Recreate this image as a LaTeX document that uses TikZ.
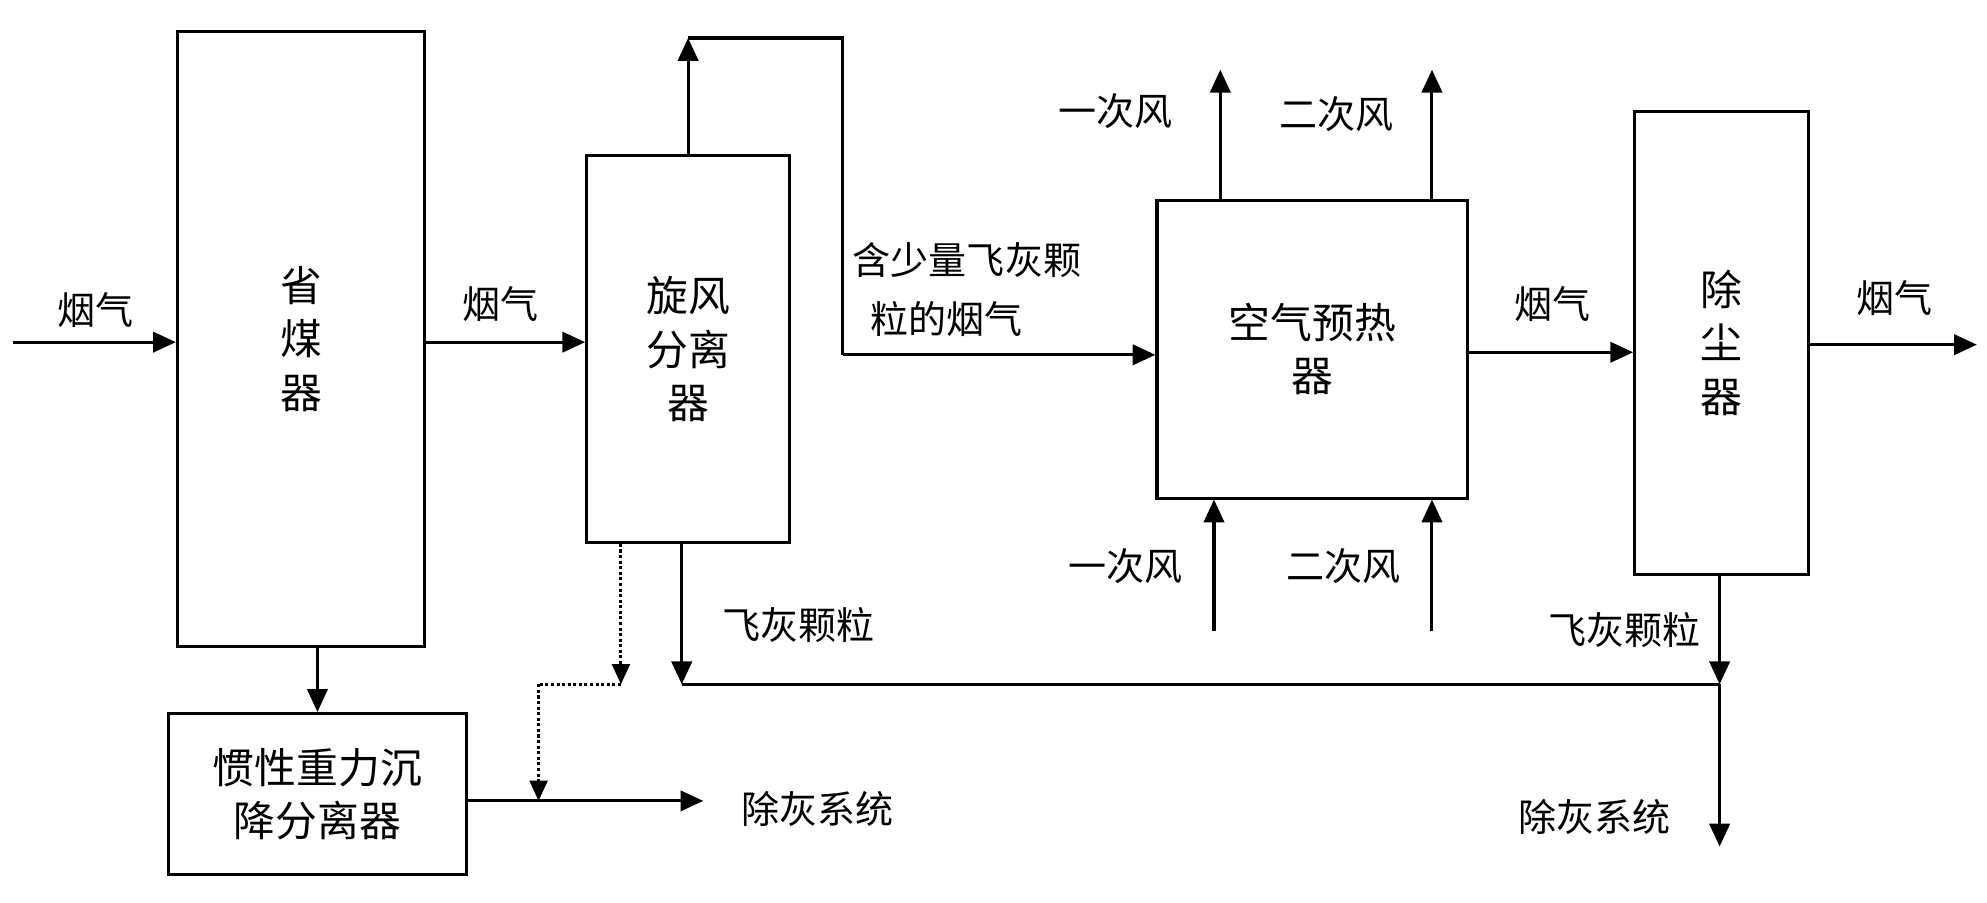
\documentclass[tikz,border=0pt]{standalone}
\usepackage{fontspec}
\setmainfont{Noto Sans CJK SC}
\usetikzlibrary{arrows.meta}
\tikzset{
  box/.style={draw,line width=1.2pt,align=center,inner sep=0pt},
  flow/.style={line width=1.2pt,-{Triangle[length=9pt,width=8pt]}},
  line/.style={line width=1.2pt},
  dot/.style={line width=1.2pt,densely dotted},
  lbl/.style={font=\fontsize{15}{19}\selectfont,align=left}
}
\begin{document}
\begin{tikzpicture}[x=0.5pt,y=-0.5pt,font=\fontsize{16.5}{21}\selectfont]
\useasboundingbox (0,0) rectangle (1568,712);
%% boxes
\node (eco) [box,minimum width=97.5pt,minimum height=242.5pt] at (237.5,267.5) {省\\煤\\器};
\node (iner) [box,minimum width=117.5pt,minimum height=63.5pt] at (250.5,626.5) {惯性重力沉\\降分离器};
\node (cyc) [box,minimum width=80pt,minimum height=152.5pt] at (543,275.5) {旋风\\分离\\器};
\node (aph) [box,minimum width=122.5pt,minimum height=117.5pt] at (1035.5,275.5) {空气预热\\器};
\node (dust) [box,minimum width=68.5pt,minimum height=182.5pt] at (1358.5,270.5) {除\\尘\\器};
%% points
\coordinate (in) at (10,270);
\coordinate (cyctop) at (543,30);
\coordinate (c1) at (665,30);
\coordinate (c2) at (665,280);
\coordinate (j1) at (538,540);
\coordinate (j2) at (1357,540);
\coordinate (ash2) at (1357,668);
\coordinate (out) at (1560,272);
\coordinate (d1) at (490,540);
\coordinate (d2) at (425,540);
\coordinate (d3) at (425,632);
\coordinate (ash1) at (555,632);
\coordinate (a1) at (963,55);
\coordinate (a2) at (1130,55);
\coordinate (b1) at (958,498);
\coordinate (b2) at (1130,498);
%% connectors
\draw [flow] (in) -- (in-|eco.west);
\draw [flow] (eco.east|-in) -- (cyc.west|-in);
\draw [flow] (cyc.north) -- (cyctop);
\draw [line] (cyctop) -- (c1) -- (c2);
\draw [flow] (c2) -- (c2-|aph.west);
\draw [flow] (aph.north-|a1) -- (a1);
\draw [flow] (aph.north-|a2) -- (a2);
\draw [flow] (b1) -- (b1|-aph.south);
\draw [flow] (b2) -- (b2|-aph.south);
\draw [flow] (aph.east|-0,278) -- (dust.west|-0,278);
\draw [flow] (dust.east|-out) -- (out);
\draw [flow] (cyc.south-|j1) -- (j1);
\draw [line] (j1) -- (j2);
\draw [flow] (dust.south-|j2) -- (j2);
\draw [flow] (j2) -- (ash2);
\draw [flow] (eco.south-|iner) -- (iner.north);
\draw [flow] (iner.east|-ash1) -- (ash1);
\draw [dot,-{Triangle[length=8pt,width=7pt]}] (cyc.south-|d1) -- (d1);
\draw [dot] (d1) -- (d2);
\draw [dot,-{Triangle[length=8pt,width=7pt]}] (d2) -- (d3);
%% labels
\node [lbl] at (75,245) {烟气};
\node [lbl] at (395,240) {烟气};
\node [lbl,anchor=west] at (666,205) {含少量飞灰颗};
\node [lbl,anchor=west] at (680,252) {粒的烟气};
\node [lbl] at (880,88) {一次风};
\node [lbl] at (1055,90) {二次风};
\node [lbl] at (888,447) {一次风};
\node [lbl] at (1060,447) {二次风};
\node [lbl] at (1225,240) {烟气};
\node [lbl] at (1495,235) {烟气};
\node [lbl] at (630,493) {飞灰颗粒};
\node [lbl] at (1282,497) {飞灰颗粒};
\node [lbl] at (645,638) {除灰系统};
\node [lbl] at (1258,645) {除灰系统};
\end{tikzpicture}
\end{document}
